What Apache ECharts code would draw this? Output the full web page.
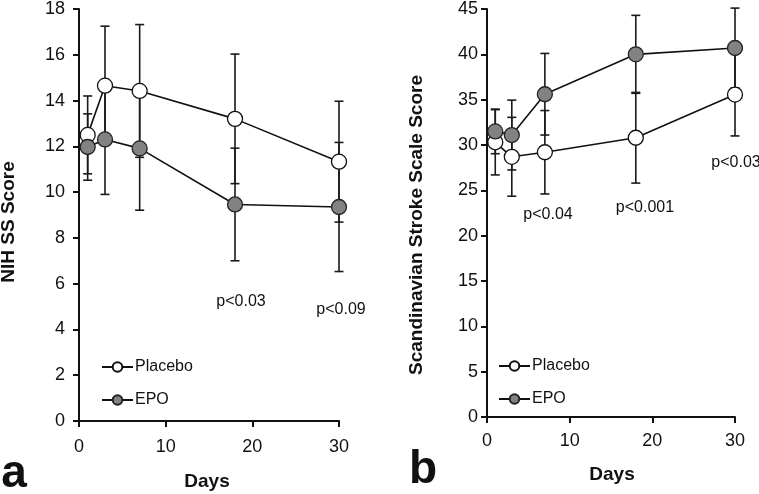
<!DOCTYPE html>
<html>
<head>
<meta charset="utf-8">
<script src="https://cdn.jsdelivr.net/npm/echarts@6/dist/echarts.min.js"></script>
<style>html,body{margin:0;padding:0;background:#fff}#c{width:759px;height:494px}</style>
</head>
<body>
<div id="c"></div>
<script>
// ---- data ----
var days = [1, 3, 7, 18, 30];
// Panel a: NIH SS Score
var nihPlacebo   = [12.5, 14.65, 14.42, 13.2, 11.33];
var nihPlaceboSD = [1.7, 2.6, 2.9, 2.83, 2.64];
var nihEPO       = [11.97, 12.3, 11.91, 9.46, 9.35];
var nihEPOSD     = [1.45, 2.4, 2.7, 2.46, 2.82];
// Panel b: Scandinavian Stroke Scale Score
var sssPlacebo   = [30.3, 28.7, 29.2, 30.8, 35.56];
var sssPlaceboSD = [3.6, 4.35, 4.6, 5.0, 4.56];
var sssEPO       = [31.5, 31.1, 35.6, 40.0, 40.7];
var sssEPOSD     = [2.46, 3.85, 4.5, 4.3, 4.4];
var xTicks = [0, 10, 20, 30];
var nihTicks = [0, 2, 4, 6, 8, 10, 12, 14, 16, 18];
var sssTicks = [0, 5, 10, 15, 20, 25, 30, 35, 40, 45];
var seriesNames = ['Placebo', 'EPO'];
var pA = ['p<0.03', 'p<0.09'];
var pB = ['p<0.04', 'p<0.001', 'p<0.03'];
var panelLabels = ['a', 'b'];
var axisNames = ['NIH SS Score', 'Scandinavian Stroke Scale Score', 'Days'];

// ---- helpers ----
var FONT = '"Liberation Sans", Arial, Helvetica, sans-serif';
function pairs(xs, ys) { return xs.map(function (x, i) { return [x, ys[i]]; }); }
function triples(xs, ys, es) { return xs.map(function (x, i) { return [x, ys[i], es[i]]; }); }

function errRender(params, api) {
  var x = api.value(0), m = api.value(1), e = api.value(2);
  var t = api.coord([x, m + e]);
  var b = api.coord([x, m - e]);
  var hw = 4.5;
  var st = { stroke: '#1a1a1a', lineWidth: 1.6 };
  return {
    type: 'group',
    children: [
      { type: 'line', shape: { x1: t[0], y1: t[1], x2: b[0], y2: b[1] }, style: st },
      { type: 'line', shape: { x1: t[0] - hw, y1: t[1], x2: t[0] + hw, y2: t[1] }, style: st },
      { type: 'line', shape: { x1: b[0] - hw, y1: b[1], x2: b[0] + hw, y2: b[1] }, style: st }
    ]
  };
}

function xAxisDef(gi, margin) {
  return {
    type: 'value', gridIndex: gi, min: xTicks[0], max: xTicks[xTicks.length - 1], interval: xTicks[1] - xTicks[0],
    axisLine: { lineStyle: { color: '#111', width: 2 } },
    axisTick: { length: 6, lineStyle: { color: '#111', width: 2 } },
    axisLabel: { color: '#111', fontSize: 18, fontFamily: FONT, margin: margin },
    splitLine: { show: false }
  };
}
function yAxisDef(gi, ticks, margin) {
  return {
    type: 'value', gridIndex: gi, min: ticks[0], max: ticks[ticks.length - 1], interval: ticks[1] - ticks[0],
    axisLine: { show: true, lineStyle: { color: '#111', width: 2 } },
    axisTick: { show: true, length: 6, lineStyle: { color: '#111', width: 2 } },
    axisLabel: { color: '#111', fontSize: 18, fontFamily: FONT, margin: margin },
    splitLine: { show: false }
  };
}
var placeboStyle = { color: '#ffffff', borderColor: '#111', borderWidth: 1.3 };
var epoStyle = { color: '#828282', borderColor: '#222', borderWidth: 1.3 };
function lineSeries(name, gi, ys, style) {
  return {
    type: 'line', name: name, xAxisIndex: gi, yAxisIndex: gi, z: 3,
    data: pairs(days, ys), symbol: 'circle', symbolSize: 15,
    lineStyle: { color: '#111', width: 1.6 }, itemStyle: style,
    emphasis: { disabled: true }, animation: false
  };
}
function errSeries(gi, ys, es) {
  return {
    type: 'custom', xAxisIndex: gi, yAxisIndex: gi, z: 1, clip: false,
    data: triples(days, ys, es), renderItem: errRender, silent: true, animation: false
  };
}
function txt(x, y, s, size, bold, align, rot) {
  return {
    type: 'text', x: x, y: y, rotation: rot || 0, silent: true,
    style: { text: s, fill: '#111', font: (bold ? 'bold ' : '') + size + 'px ' + FONT,
             textAlign: align || 'center', textVerticalAlign: 'middle' }
  };
}
function legendDef(left, top) {
  return {
    orient: 'vertical', left: left, top: top, data: seriesNames,
    itemWidth: 31, itemHeight: 12, itemGap: 17,
    textStyle: { fontSize: 16, color: '#111', fontFamily: FONT, padding: [0, 0, 0, -3] },
    selectedMode: false
  };
}

var chart = echarts.init(document.getElementById('c'), null, { renderer: 'canvas' });
chart.setOption({
  animation: false,
  backgroundColor: '#ffffff',
  textStyle: { fontFamily: FONT },
  grid: [
    { left: 79, top: 7, width: 260, height: 414 },
    { left: 487, top: 7, width: 248, height: 410 }
  ],
  xAxis: [xAxisDef(0, 17), xAxisDef(1, 15)],
  yAxis: [yAxisDef(0, nihTicks, 14), yAxisDef(1, sssTicks, 9)],
  legend: [legendDef(96, 354), legendDef(493, 353)],
  series: [
    errSeries(0, nihPlacebo, nihPlaceboSD),
    errSeries(0, nihEPO, nihEPOSD),
    lineSeries(seriesNames[0], 0, nihPlacebo, placeboStyle),
    lineSeries(seriesNames[1], 0, nihEPO, epoStyle),
    errSeries(1, sssPlacebo, sssPlaceboSD),
    errSeries(1, sssEPO, sssEPOSD),
    lineSeries(seriesNames[0], 1, sssPlacebo, placeboStyle),
    lineSeries(seriesNames[1], 1, sssEPO, epoStyle)
  ],
  graphic: [
    txt(9, 222, axisNames[0], 19, true, 'center', Math.PI / 2),
    txt(417, 225, axisNames[1], 19, true, 'center', Math.PI / 2),
    txt(207, 482, axisNames[2], 19, true),
    txt(612, 475, axisNames[2], 19, true),
    txt(241, 302, pA[0], 16, false),
    txt(341, 310, pA[1], 16, false),
    txt(548, 215, pB[0], 16, false),
    txt(645, 208, pB[1], 16, false),
    txt(736, 163, pB[2], 16, false),
    txt(14, 474, panelLabels[0], 46, true),
    txt(423, 470, panelLabels[1], 46, true)
  ]
});
</script>
</body>
</html>
